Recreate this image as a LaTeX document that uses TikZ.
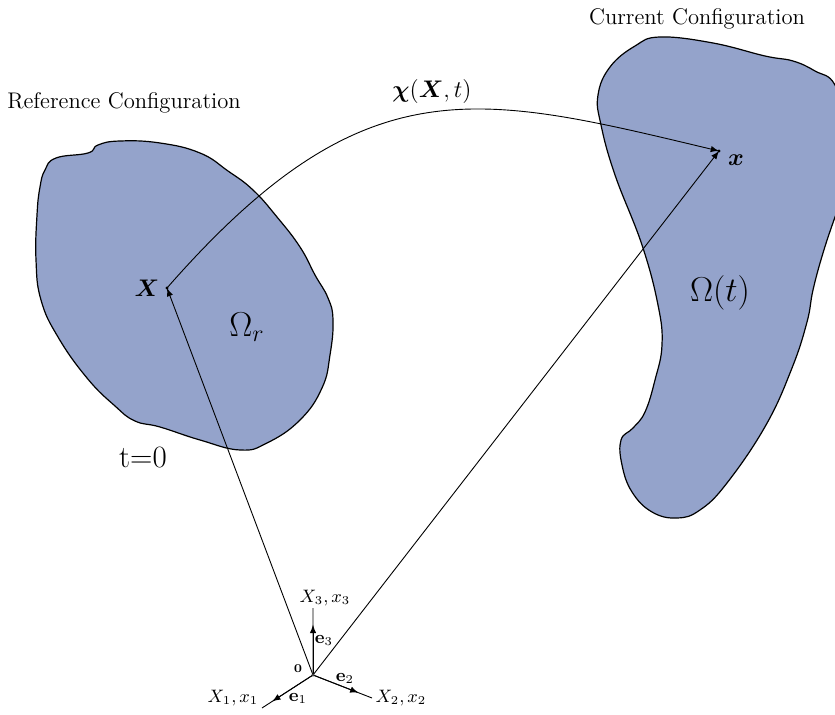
\documentclass[tikz,border=0pt]{standalone}
\usepackage{amsmath}
\usepackage{amssymb}
\usepackage{bm}
\usetikzlibrary{calc}
\definecolor{blobfill}{RGB}{148,163,203}

\begin{document}
\begin{tikzpicture}[x=0.5pt,y=-0.5pt,inner sep=0pt,>=latex,
  blob/.style={fill=blobfill,draw=black,line width=0.6pt},
  conn/.style={line width=0.45pt},
  ttl/.style={font=\fontsize{11.3}{13}\selectfont}]
\useasboundingbox (0,0) rectangle (835,715);
% bodies
\draw[blob] plot[smooth cycle,tension=0.75] coordinates {(45,170) (56,158) (88,153) (98,145) (120,141) (160,143) (200,153) (228,171) (253,190) (277,217) (300,247) (315,275) (328,298) (333,320) (330,355) (322,388) (300,420) (267,443) (240,450) (200,440) (160,427) (135,421) (115,406) (87,378) (58,337) (41,300) (36,260) (37,215) (40,187)};
\draw[blob] plot[smooth cycle,tension=0.7] coordinates {(660,37) (713,43) (765,56) (793,61) (815,71) (835,85) (848,130) (845,190) (835,217) (823,253) (813,290) (807,322) (792,368) (766,425) (727,483) (700,510) (677,518) (652,512) (632,492) (622,465) (621,440) (633,428) (645,412) (655,380) (662,345) (658,305) (642,245) (615,175) (601,125) (598,95) (610,67) (635,46)};

% points
\coordinate (pX) at (167,288);
\coordinate (px) at (719,151);
\coordinate (p0) at (313,675);
\coordinate (a1) at (262,708);
\coordinate (a2) at (372,698);
\coordinate (a3) at (313,608);
\fill (pX) circle (1.6);
\fill (px) circle (1.6);

% labels
\node[ttl] (rc) at (124,103) {Reference Configuration};
\node[ttl] (cc) at (697,19) {Current Configuration};
\node[font=\fontsize{15.5}{17}\selectfont] (t0) at (143,458) {t=0};
\node[font=\fontsize{17.5}{19}\selectfont] (wr) at (247,327) {$\Omega_r$};
\node[font=\fontsize{16.5}{19}\selectfont] (wt) at (720,293) {$\Omega(t)$};
\node[font=\fontsize{13}{15}\selectfont] (lX) at (147,288) {$\bm{X}$};
\node[font=\fontsize{13}{15}\selectfont] (lx) at (736,160) {$\bm{x}$};
\node[font=\fontsize{13}{15}\selectfont] (lchi) at (432,92) {$\bm{\chi}(\bm{X},t)$};

% mapping and position vectors
\draw[conn,->] (pX) .. controls (364,63) and (476,93) .. (px);
\draw[conn,->] (p0) -- (pX);
\draw[conn,->] (p0) -- (px);

% basis
\draw[conn] (p0) -- (a1) (p0) -- (a2) (p0) -- (a3);
\draw[conn,->] (p0) -- ($(p0)!0.8!(a1)$);
\draw[conn,->] (p0) -- ($(p0)!0.77!(a2)$);
\draw[conn,->] (p0) -- ($(p0)!0.75!(a3)$);
\draw[fill=white,line width=0.3pt] (p0) circle (1.3);
\node[font=\fontsize{9}{11}\selectfont] (l3) at (325,598) {$X_3,x_3$};
\node[font=\fontsize{9}{11}\selectfont] (l2) at (401,698) {$X_2,x_2$};
\node[font=\fontsize{9}{11}\selectfont] (l1) at (233,698) {$X_1,x_1$};
\node[font=\fontsize{9}{11}\selectfont] (e3) at (324,640) {$\mathbf{e}_3$};
\node[font=\fontsize{9}{11}\selectfont] (e2) at (345,678) {$\mathbf{e}_2$};
\node[font=\fontsize{9}{11}\selectfont] (e1) at (298,698) {$\mathbf{e}_1$};
\node[font=\fontsize{6}{7}\selectfont] (o) at (298,669) {$\mathbf{0}$};
\end{tikzpicture}
\end{document}
